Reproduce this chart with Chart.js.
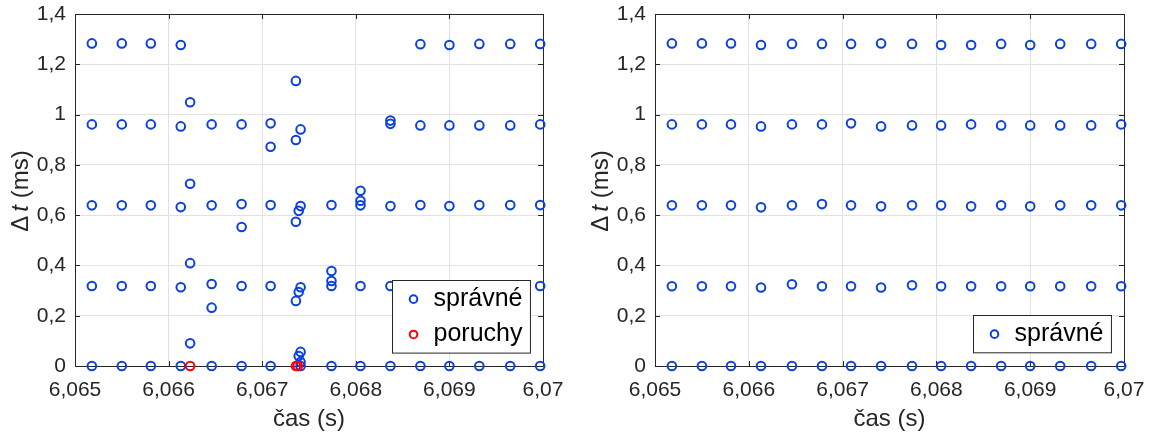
<!DOCTYPE html>
<html>
<head>
<meta charset="utf-8">
<script src="https://cdn.jsdelivr.net/npm/chart.js@4.4.1/dist/chart.umd.min.js"></script>
<style>
  html, body { margin: 0; padding: 0; background: #fff; }
  #wrap { position: relative; width: 1153px; height: 437px; overflow: hidden; }
  canvas { position: absolute; top: 0; }
</style>
</head>
<body>
<div id="wrap">
  <canvas id="c1" width="576" height="437" style="left:0px"></canvas>
  <canvas id="c2" width="577" height="437" style="left:576px"></canvas>
</div>
<script>
// ---- data (times in s, delays in ms) ----
const xTicks = [6.065, 6.066, 6.067, 6.068, 6.069, 6.070];
const yTicks = [0, 0.2, 0.4, 0.6, 0.8, 1.0, 1.2, 1.4];

// left chart: correct samples
const leftCas = [
  6.06518, 6.06518, 6.06518, 6.06518, 6.06518,
  6.06550, 6.06550, 6.06550, 6.06550, 6.06550,
  6.06581, 6.06581, 6.06581, 6.06581, 6.06581,
  6.06613, 6.06613, 6.06613, 6.06613, 6.06613,
  6.06623, 6.06623, 6.06623, 6.06623,
  6.06646, 6.06646, 6.06646, 6.06646, 6.06646,
  6.06678, 6.06678, 6.06678, 6.06678, 6.06678,
  6.06709, 6.06709, 6.06709, 6.06709, 6.06709,
  6.06736, 6.06736, 6.06736, 6.06736,
  6.06739, 6.06739, 6.06739,
  6.06741, 6.06741, 6.06741, 6.06741, 6.06741, 6.06741,
  6.06774, 6.06774, 6.06774, 6.06774, 6.06774,
  6.06805, 6.06805, 6.06805, 6.06805, 6.06805,
  6.06837, 6.06837, 6.06837, 6.06837, 6.06837,
  6.06869, 6.06869, 6.06869, 6.06869,
  6.06900, 6.06900, 6.06900, 6.06900,
  6.06932, 6.06932, 6.06932, 6.06932,
  6.06965, 6.06965, 6.06965, 6.06965,
  6.06997, 6.06997, 6.06997, 6.06997, 6.06997
];
const leftSpravne = [
  1.283, 0.961, 0.639, 0.318, 0,
  1.283, 0.961, 0.639, 0.318, 0,
  1.283, 0.961, 0.639, 0.318, 0,
  1.277, 0.953, 0.632, 0.313, 0,
  1.049, 0.725, 0.409, 0.090,
  0.961, 0.639, 0.326, 0.232, 0,
  0.961, 0.644, 0.553, 0.318, 0,
  0.965, 0.872, 0.640, 0.318, 0,
  1.134, 0.899, 0.574, 0.259,
  0.617, 0.294, 0.040,
  0.941, 0.636, 0.313, 0.056, 0.016, 0,
  0.640, 0.378, 0.338, 0.318, 0,
  0.697, 0.657, 0.639, 0.318, 0,
  0.976, 0.963, 0.636, 0.318, 0,
  1.280, 0.957, 0.640, 0,
  1.277, 0.957, 0.636, 0,
  1.281, 0.957, 0.640, 0,
  1.281, 0.957, 0.640, 0,
  1.281, 0.961, 0.640, 0.318, 0
];
// left chart: faults
const poruchyCas = [6.06623, 6.06736, 6.06738];
const poruchyDt  = [0, 0, 0];

// right chart: 16 sample times, 5 levels
const rightCas = [6.06518, 6.06550, 6.06581, 6.06613, 6.06646, 6.06678, 6.06709, 6.06741,
                  6.06774, 6.06805, 6.06837, 6.06869, 6.06900, 6.06932, 6.06965, 6.06997];
const rightLevel4 = [1.283,1.283,1.283,1.277,1.281,1.281,1.281,1.283,1.281,1.277,1.277,1.281,1.277,1.281,1.281,1.281];
const rightLevel3 = [0.961,0.961,0.961,0.953,0.961,0.961,0.965,0.953,0.957,0.957,0.961,0.957,0.957,0.957,0.957,0.961];
const rightLevel2 = [0.639,0.639,0.639,0.631,0.639,0.644,0.639,0.635,0.639,0.639,0.635,0.639,0.635,0.639,0.639,0.639];
const rightLevel1 = [0.317,0.317,0.317,0.312,0.325,0.317,0.317,0.312,0.321,0.317,0.317,0.317,0.317,0.317,0.317,0.317];
const rightLevel0 = [0,0,0,0,0,0,0,0,0,0,0,0,0,0,0,0];

const labelSpravne = 'správné';
const labelPoruchy = 'poruchy';
const xTitle = 'čas (s)';

// ---- styling ----
const BLUE = '#0a40e0';
const RED = '#ff0000';
const AXIS = '#262626';
const GRID = '#e2e2e2';
const FONT = "'Liberation Sans', Arial, Helvetica, sans-serif";

Chart.defaults.font.family = FONT;
Chart.defaults.color = AXIS;

function fmt(v, d) {
  return Number(v.toFixed(d)).toString().replace('.', ',');
}
function pairs(xs, ys) { return xs.map((x, i) => ({ x: x, y: ys[i] })); }

const framePlugin = {
  id: 'matlabFrame',
  beforeDatasetsDraw(chart) {
    const { ctx, chartArea: a, scales } = chart;
    ctx.save();
    ctx.strokeStyle = AXIS;
    ctx.lineWidth = 1;
    ctx.beginPath();
    ctx.rect(Math.round(a.left) + 0.5, Math.round(a.top) + 0.5,
             Math.round(a.right - a.left), Math.round(a.bottom - a.top));
    ctx.stroke();
    const L = 5;
    ctx.beginPath();
    xTicks.forEach(v => {
      const px = Math.round(scales.x.getPixelForValue(v)) + 0.5;
      ctx.moveTo(px, a.bottom); ctx.lineTo(px, a.bottom - L);
      ctx.moveTo(px, a.top); ctx.lineTo(px, a.top + L);
    });
    yTicks.forEach(v => {
      const py = Math.round(scales.y.getPixelForValue(v)) + 0.5;
      ctx.moveTo(a.left, py); ctx.lineTo(a.left + L, py);
      ctx.moveTo(a.right, py); ctx.lineTo(a.right - L, py);
    });
    ctx.stroke();
    ctx.restore();
  },
  afterDraw(chart) {
    const { ctx, chartArea: a } = chart;
    ctx.save();
    // x title
    ctx.fillStyle = AXIS;
    ctx.font = '24px ' + FONT;
    ctx.textAlign = 'center';
    ctx.textBaseline = 'middle';
    ctx.fillText(xTitle, (a.left + a.right) / 2, 419);
    // y title: Δ t (ms) with italic t
    ctx.translate(a.left - 54, (a.top + a.bottom) / 2 + 1);
    ctx.rotate(-Math.PI / 2);
    const fN = '24px ' + FONT, fI = 'italic 24px ' + FONT;
    ctx.font = fN; const w1 = ctx.measureText('Δ').width;
    ctx.font = fI; const w2 = ctx.measureText('t').width;
    ctx.font = fN; const w3 = ctx.measureText(' (ms)').width;
    const gap = 4;
    let x = -(w1 + gap + w2 + w3) / 2;
    ctx.textAlign = 'left';
    ctx.font = fN; ctx.fillText('Δ', x, 0); x += w1 + gap;
    ctx.font = fI; ctx.fillText('t', x, 0); x += w2;
    ctx.font = fN; ctx.fillText(' (ms)', x, 0);
    ctx.restore();

    // legend
    const items = chart.data.datasets.map(d => ({ label: d.label, color: d.borderColor }));
    ctx.save();
    ctx.font = '25px ' + FONT;
    let tw = 0;
    items.forEach(it => { tw = Math.max(tw, ctx.measureText(it.label).width); });
    const rowH = 35.3;
    const bw = 41 + tw + 8;
    const bh = 2 + items.length * rowH;
    const bx = Math.round(a.right - 13 - bw) + 0.5;
    const by = Math.round(a.bottom - 13.5 - bh) + 0.5;
    ctx.fillStyle = '#ffffff';
    ctx.fillRect(bx, by, bw, bh);
    ctx.strokeStyle = AXIS;
    ctx.lineWidth = 1;
    ctx.strokeRect(bx, by, bw, bh);
    items.forEach((it, i) => {
      const cy = by + 1 + rowH / 2 + i * rowH;
      ctx.beginPath();
      ctx.strokeStyle = it.color;
      ctx.lineWidth = 2;
      ctx.arc(bx + 21, cy, 3.8, 0, Math.PI * 2);
      ctx.stroke();
      ctx.fillStyle = '#000000';
      ctx.textAlign = 'left';
      ctx.textBaseline = 'middle';
      ctx.fillText(it.label, bx + 41, cy);
    });
    ctx.restore();
  }
};

function makeOptions(yWidth, padRight) {
  return {
    responsive: false,
    animation: false,
    devicePixelRatio: 1,
    layout: { padding: { left: 0, top: 14, right: padRight, bottom: 0 } },
    plugins: { legend: { display: false }, tooltip: { enabled: false } },
    elements: { point: { radius: 4.3, borderWidth: 2, pointStyle: 'circle', hoverRadius: 4.3 } },
    scales: {
      x: {
        type: 'linear', min: 6.065, max: 6.070,
        afterBuildTicks: s => { s.ticks = xTicks.map(v => ({ value: v })); },
        afterFit: s => { s.height = 437 - 366; s.paddingLeft = 0; s.paddingRight = 0; },
        grid: { color: GRID, drawTicks: false, lineWidth: 1 },
        border: { display: false },
        ticks: { font: { size: 21 }, color: AXIS, padding: 12, maxRotation: 0,
                 callback: v => fmt(v, 3) }
      },
      y: {
        type: 'linear', min: 0, max: 1.4,
        afterBuildTicks: s => { s.ticks = yTicks.map(v => ({ value: v })); },
        afterFit: s => { s.width = yWidth; s.paddingTop = 0; s.paddingBottom = 0; },
        grid: { color: GRID, drawTicks: false, lineWidth: 1 },
        border: { display: false },
        ticks: { font: { size: 21 }, color: AXIS, padding: 9,
                 callback: v => fmt(v, 1) }
      }
    }
  };
}

new Chart(document.getElementById('c1'), {
  type: 'scatter',
  data: {
    datasets: [
      { label: labelSpravne, data: pairs(leftCas, leftSpravne), borderColor: BLUE,
        backgroundColor: 'rgba(0,0,0,0)', order: 1, clip: false },
      { label: labelPoruchy, data: pairs(poruchyCas, poruchyDt), borderColor: RED,
        backgroundColor: 'rgba(0,0,0,0)', order: 0, clip: false }
    ]
  },
  options: makeOptions(75, 33),
  plugins: [framePlugin]
});

const rightPoints = [].concat(
  pairs(rightCas, rightLevel4), pairs(rightCas, rightLevel3), pairs(rightCas, rightLevel2),
  pairs(rightCas, rightLevel1), pairs(rightCas, rightLevel0));

new Chart(document.getElementById('c2'), {
  type: 'scatter',
  data: {
    datasets: [
      { label: labelSpravne, data: rightPoints, borderColor: BLUE,
        backgroundColor: 'rgba(0,0,0,0)', clip: false }
    ]
  },
  options: makeOptions(79, 29),
  plugins: [framePlugin]
});
</script>
</body>
</html>
